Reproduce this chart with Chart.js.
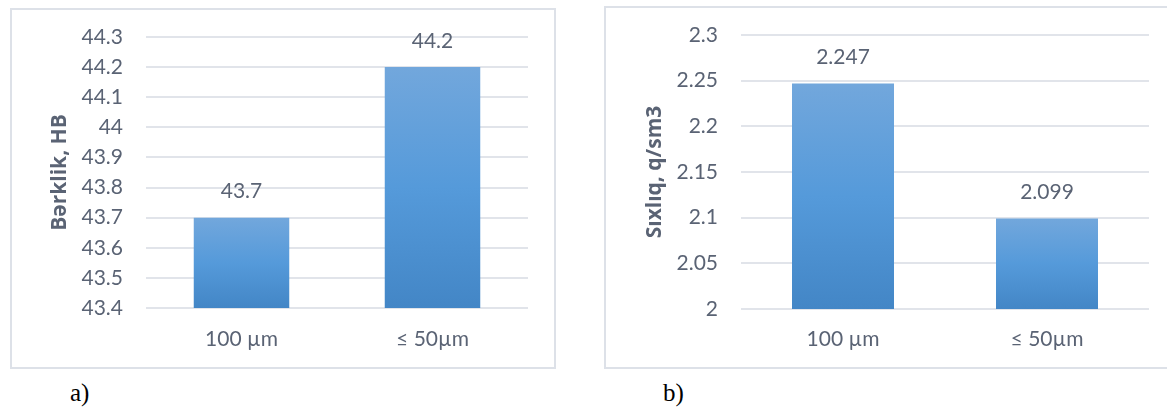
<!DOCTYPE html>
<html>
<head>
<meta charset="utf-8">
<script src="https://cdn.jsdelivr.net/npm/chart.js@4.4.1/dist/chart.umd.min.js"></script>
<style>
  html, body { margin:0; padding:0; background:#fff; width:1167px; height:408px; overflow:hidden; position:relative; }
  .box { position:absolute; border:2px solid #dde1e8; background:#fff; }
  .box canvas { display:block; }
  .cap { position:absolute; font-family:"Liberation Serif","DejaVu Serif",serif; font-size:25px; color:#000; line-height:1; }
</style>
</head>
<body>
<div class="box" id="boxA" style="left:10px; top:8px; width:542px; height:357px;"><canvas id="cA" width="542" height="357"></canvas></div>
<div class="box" id="boxB" style="left:604px; top:6px; width:566px; height:359px;"><canvas id="cB" width="566" height="359"></canvas></div>
<div class="cap" style="left:70px; top:380px;">a)</div>
<div class="cap" style="left:663px; top:380px;">b)</div>
<script>
const categories = ["100 \u00b5m", "\u2264 50\u00b5m"];
const hardnessValues = [43.7, 44.2];
const densityValues = [2.247, 2.099];
const hardnessTitle = "B\u0259rklik, HB";
const densityTitle = "S\u0131xl\u0131q, q/sm3";
const hardnessAxis = { min: 43.4, max: 44.3, step: 0.1 };
const densityAxis = { min: 2.0, max: 2.3, step: 0.05 };

const TEXT = "#5a6374";
const GRID = "#e1e4ea";
const FONT = "Lato";

function barGradient(ctx) {
  const chart = ctx.chart;
  const y = chart.scales.y;
  if (!y || ctx.dataIndex === undefined) return "#5b9bd5";
  const v = ctx.dataset.data[ctx.dataIndex];
  const top = y.getPixelForValue(v);
  const bot = y.getPixelForValue(y.min);
  if (!isFinite(top) || !isFinite(bot) || top === bot) return "#5b9bd5";
  const g = chart.ctx.createLinearGradient(0, top, 0, bot);
  g.addColorStop(0, "#72a7dc");
  g.addColorStop(0.5, "#559ada");
  g.addColorStop(1, "#4386c6");
  return g;
}

const valueLabels = {
  id: "valueLabels",
  afterDatasetsDraw(chart) {
    const c = chart.ctx;
    const meta = chart.getDatasetMeta(0);
    c.save();
    c.font = "21px " + FONT;
    c.fillStyle = TEXT;
    c.textAlign = "center";
    c.textBaseline = "middle";
    meta.data.forEach((bar, i) => {
      c.fillText(String(chart.data.datasets[0].data[i]), bar.x, bar.y - 26);
    });
    c.restore();
  }
};

function makeChart(id, values, title, axis, pad, yWidth, xHeight, xPad) {
  return new Chart(document.getElementById(id), {
    type: "bar",
    data: {
      labels: categories,
      datasets: [{
        data: values,
        backgroundColor: barGradient,
        borderWidth: 0,
        barPercentage: 1.0,
        categoryPercentage: 0.5
      }]
    },
    options: {
      responsive: false,
      animation: false,
      layout: { padding: pad },
      plugins: { legend: { display: false }, tooltip: { enabled: false } },
      scales: {
        x: {
          grid: { display: false, drawTicks: false },
          border: { display: false },
          ticks: { color: TEXT, font: { family: FONT, size: 21 }, padding: xPad },
          afterFit(s) { s.height = xHeight; }
        },
        y: {
          min: axis.min, max: axis.max,
          grid: { color: GRID, lineWidth: 2, drawTicks: false },
          border: { display: false },
          ticks: {
            stepSize: axis.step, color: TEXT, font: { family: FONT, size: 21 }, padding: 23,
            callback: (v) => String(Math.round(v * 1000) / 1000)
          },
          title: { display: true, text: title, color: TEXT, font: { family: "Open Sans", size: 21, weight: "bold" }, padding: 0 },
          afterFit(s) { s.width = yWidth; s.paddingTop = 12; s.paddingBottom = 12; }
        }
      }
    },
    plugins: [valueLabels]
  });
}

makeChart("cA", hardnessValues, hardnessTitle, hardnessAxis, { left: 35, right: 26, top: 27, bottom: 0 }, 99, 59, 19);
makeChart("cB", densityValues, densityTitle, densityAxis, { left: 36, right: 23, top: 27, bottom: 0 }, 99, 58, 18);
</script>
</body>
</html>
